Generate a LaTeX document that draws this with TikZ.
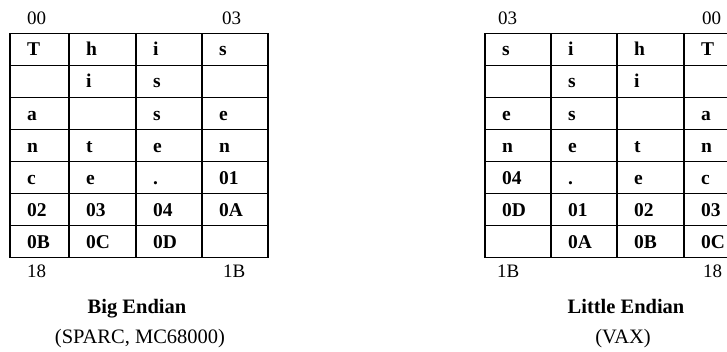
\documentclass[tikz,border=0pt]{standalone}
\usepackage{fontspec}
\setmainfont{Liberation Serif}
\begin{document}
\begin{tikzpicture}[x=1pt,y=-1pt,
  grid/.style={line width=1.1pt, black},
  cell/.style={anchor=base west, inner sep=0pt, font=\fontsize{19.5}{21}\selectfont\bfseries},
  addr/.style={anchor=base west, inner sep=0pt, font=\fontsize{19}{21}\selectfont},
  title/.style={anchor=base, inner sep=0pt, font=\fontsize{20.5}{23}\selectfont\bfseries},
  subtitle/.style={anchor=base, inner sep=0pt, font=\fontsize{20.5}{23}\selectfont}]
\clip (0,0) rectangle (727,352);
\fill[white] (0,0) rectangle (727,352);
% ---- left table grid
\foreach \k in {0,...,7}
  \draw[grid] (10,{33.3+\k*32.06}) -- (268,{33.3+\k*32.06});
\foreach \xv in {10,69,136,202,268}
  \draw[grid] (\xv,33.3) -- (\xv,257.7);
% ---- right table grid
\foreach \k in {0,...,7}
  \draw[grid] (485,{33.3+\k*32.06}) -- (750,{33.3+\k*32.06});
\foreach \xv in {485,551,617,684,750}
  \draw[grid] (\xv,33.3) -- (\xv,257.7);
% ---- left cells
\foreach \r/\c/\t in {1/1/T,1/2/h,1/3/i,1/4/s,
  2/2/i,2/3/s,
  3/1/a,3/3/s,3/4/e,
  4/1/n,4/2/t,4/3/e,4/4/n,
  5/1/c,5/2/e,5/3/.,5/4/01,
  6/1/02,6/2/03,6/3/04,6/4/0A,
  7/1/0B,7/2/0C,7/3/0D}{
  \pgfmathsetmacro{\xx}{{10,69,136,202}[\c-1]+17}
  \pgfmathsetmacro{\yy}{33.3+(\r-0.5)*32.06+6.6}
  \node[cell] (L\r\c) at (\xx,\yy) {\t};
}
% ---- right cells
\foreach \r/\c/\t in {1/1/s,1/2/i,1/3/h,1/4/T,
  2/2/s,2/3/i,
  3/1/e,3/2/s,3/4/a,
  4/1/n,4/2/e,4/3/t,4/4/n,
  5/1/04,5/2/.,5/3/e,5/4/c,
  6/1/0D,6/2/01,6/3/02,6/4/03,
  7/2/0A,7/3/0B,7/4/0C}{
  \pgfmathsetmacro{\xx}{{485,551,617,684}[\c-1]+17}
  \pgfmathsetmacro{\yy}{33.3+(\r-0.5)*32.06+6.6}
  \node[cell] (R\r\c) at (\xx,\yy) {\t};
}
% ---- address labels
\node[addr] (la00) at (27,25) {00};
\node[addr] (la03) at (222,25) {03};
\node[addr] (la18) at (27,277) {18};
\node[addr] (la1B) at (223,277) {1B};
\node[addr] (ra03) at (498,25) {03};
\node[addr] (ra00) at (702,25) {00};
\node[addr] (ra1B) at (497,277) {1B};
\node[addr] (ra18) at (703,277) {18};
% ---- titles
\node[title] (bigt) at (137,313) {Big Endian};
\node[subtitle] (bigs) at (140,343) {(SPARC, MC68000)};
\node[title] (litt) at (626,313) {Little Endian};
\node[subtitle] (lits) at (623,343) {(VAX)};
\end{tikzpicture}
\end{document}
